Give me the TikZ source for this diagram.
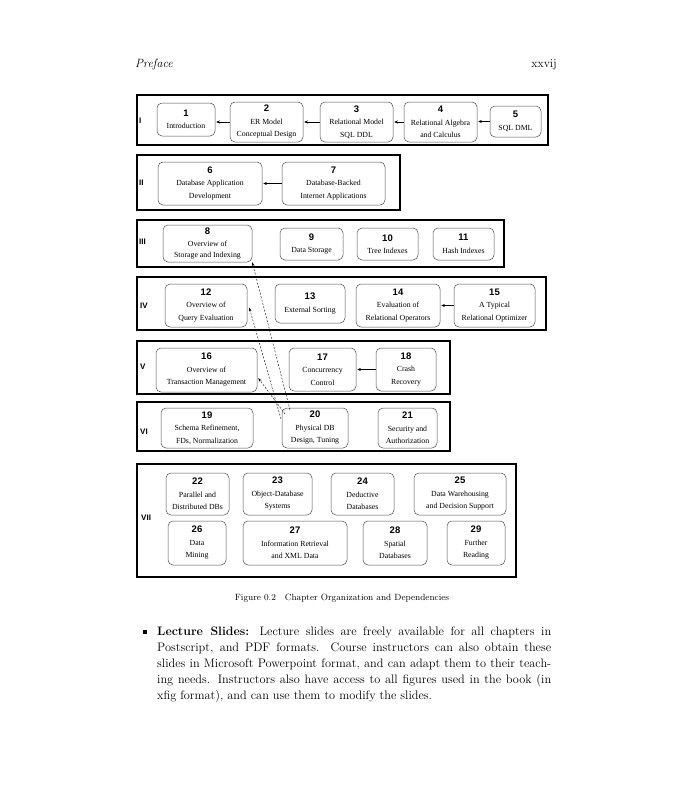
\documentclass[tikz,border=0pt]{standalone}
\usepackage{fontspec}
\newfontfamily\numfont{Liberation Sans}
\newfontfamily\boxfont{Liberation Serif}
\usetikzlibrary{arrows.meta}
\tikzset{
  rowbox/.style={draw, line width=1.4pt},
  chap/.style={draw=black!70, line width=0.5pt, rounded corners=5pt, inner sep=0pt, align=center, font=\boxfont\fontsize{7.8}{12.5}\selectfont},
  dep/.style={-{Stealth[length=3.5pt,width=3pt]}, line width=0.5pt, shorten >=1pt},
  refl/.style={dash pattern=on 2pt off 1.5pt, line width=0.4pt, -{Stealth[length=4pt,width=2.5pt]}},
  rnum/.style={anchor=west, font=\numfont\bfseries\fontsize{8}{9}\selectfont, inner sep=0pt},
  bodyline/.style={anchor=base west, inner sep=0pt, font=\fontsize{12.3}{16}\selectfont}
}
\newcommand\chapbox[7]{%
  \pgfmathsetmacro\cbx{(#2+#4)/2}\pgfmathsetmacro\cby{(#3+#5)/2}%
  \pgfmathsetmacro\cbw{#4-#2}\pgfmathsetmacro\cbh{#5-#3}%
  \node[chap, minimum width=\cbw pt, minimum height=\cbh pt] (#1) at (\cbx,\cby) {{\numfont\bfseries\fontsize{9.5}{10}\selectfont #6}\\#7};%
}
\begin{document}
\begin{tikzpicture}[x=1pt,y=-1pt]
\useasboundingbox (0,0) rectangle (680,800);
% header
\node[anchor=base west, inner sep=0pt, font=\fontsize{12}{14}\selectfont\itshape] (hdr) at (135,67) {Preface};
\node[anchor=base east, inner sep=0pt, font=\fontsize{12}{14}\selectfont] (pg) at (557,67) {xxvij};
% row boxes
\draw[rowbox] (137,95) rectangle (548,145);
\draw[rowbox] (137,155) rectangle (400,210);
\draw[rowbox] (137,220) rectangle (504,267);
\draw[rowbox] (137,277) rectangle (546,330);
\draw[rowbox] (137,341) rectangle (450,394);
\draw[rowbox] (137,402) rectangle (450,451);
\draw[rowbox] (137,464) rectangle (516,577);
% row labels
\node[rnum] (r1) at (139,121) {I};
\node[rnum] (r2) at (139,183) {II};
\node[rnum] (r3) at (139,242) {III};
\node[rnum] (r4) at (140,306) {IV};
\node[rnum] (r5) at (140,367) {V};
\node[rnum] (r6) at (140,432) {VI};
\node[rnum] (r7) at (141,518) {VII};
% row I
\chapbox{n1}{157}{103}{215}{136}{1}{Introduction}
\chapbox{n2}{230}{102}{303}{142}{2}{ER Model\\Conceptual Design}
\chapbox{n3}{320}{102}{393}{142}{3}{Relational Model\\SQL DDL}
\chapbox{n4}{404}{102}{477}{142}{4}{Relational Algebra\\and Calculus}
\chapbox{n5}{490}{106}{541}{137}{5}{SQL DML}
\draw[dep] (n2.west) -- (n2.west -| n1.east);
\draw[dep] (n3.west) -- (n3.west -| n2.east);
\draw[dep] (n4.west) -- (n4.west -| n3.east);
\draw[dep] (n5.west) -- (n5.west -| n4.east);
% row II
\chapbox{n6}{158}{162}{262}{205}{6}{Database Application\\Development}
\chapbox{n7}{282}{162}{385}{205}{7}{Database-Backed\\Internet Applications}
\draw[dep] (n7.west) -- (n7.west -| n6.east);
% row III
\chapbox{n8}{163}{225}{252}{262}{8}{Overview of\\[-2pt]Storage and Indexing}
\chapbox{n9}{280}{228}{343}{260}{9}{Data Storage}
\chapbox{n10}{357}{228}{418}{260}{10}{Tree Indexes}
\chapbox{n11}{433}{228}{494}{260}{11}{Hash Indexes}
% row IV
\chapbox{n12}{165}{284}{247}{327}{12}{Overview of\\Query Evaluation}
\chapbox{n13}{275}{284}{345}{323}{13}{External Sorting}
\chapbox{n14}{356}{284}{440}{327}{14}{Evaluation of\\Relational Operators}
\chapbox{n15}{454}{284}{535}{327}{15}{A Typical\\Relational Optimizer}
\draw[dep] (n15.west) -- (n15.west -| n14.east);
% row V
\chapbox{n16}{156}{348}{257}{392}{16}{Overview of\\Transaction Management}
\chapbox{n17}{289}{348}{356}{391}{17}{Concurrency\\Control}
\chapbox{n18}{376}{348}{436}{391}{18}{Crash\\Recovery}
\draw[dep] (n18.west) -- (n18.west -| n17.east);
% row VI
\chapbox{n19}{161}{408}{253}{448}{19}{Schema Refinement,\\FDs, Normalization}
\chapbox{n20}{282}{408}{348}{448}{20}{Physical DB\\Design, Tuning}
\chapbox{n21}{378}{408}{437}{448}{21}{Security and\\Authorization}
% row VII
\chapbox{n22}{166}{473}{229}{515}{22}{Parallel and\\Distributed DBs}
\chapbox{n23}{243}{473}{312}{515}{23}{Object-Database\\Systems}
\chapbox{n24}{331}{473}{394}{515}{24}{Deductive\\Databases}
\chapbox{n25}{414}{473}{506}{515}{25}{Data Warehousing\\and Decision Support}
\chapbox{n26}{168}{521}{226}{565}{26}{Data\\Mining}
\chapbox{n27}{243}{521}{347}{565}{27}{Information Retrieval\\and XML Data}
\chapbox{n28}{363}{521}{427}{565}{28}{Spatial\\Databases}
\chapbox{n29}{447}{521}{505}{565}{29}{Further\\Reading}
% dashed dependencies from 20
\coordinate (d8) at (290,410);
\coordinate (d12) at (281,419);
\coordinate (d16) at (285,414);
\draw[refl] (d8) -- (n8.south east);
\draw[refl] (d12) -- ([xshift=2pt,yshift=-2pt]n12.east);
\draw[refl] (d16) -- ([xshift=1pt,yshift=-8pt]n16.east);
% caption
\node[inner sep=0pt, font=\fontsize{9}{11}\selectfont] (cap) at (342,598) {Figure 0.2\quad Chapter Organization and Dependencies};
% body text
\node[draw=none, fill=black, minimum size=3.5pt, inner sep=0pt] (bul) at (145,632) {};
\node[bodyline] (l1) at (157,635) {\makebox[394pt][s]{\textbf{Lecture Slides:} Lecture slides are freely available for all chapters in}};
\node[bodyline] (l2) at (157,651) {\makebox[394pt][s]{Postscript, and PDF formats. Course instructors can also obtain these}};
\node[bodyline] (l3) at (157,667) {\makebox[394pt][s]{slides in Microsoft Powerpoint format, and can adapt them to their teach-}};
\node[bodyline] (l4) at (157,683) {\makebox[394pt][s]{ing needs. Instructors also have access to all figures used in the book (in}};
\node[bodyline] (l5) at (157,699) {xfig format), and can use them to modify the slides.};
\end{tikzpicture}
\end{document}
